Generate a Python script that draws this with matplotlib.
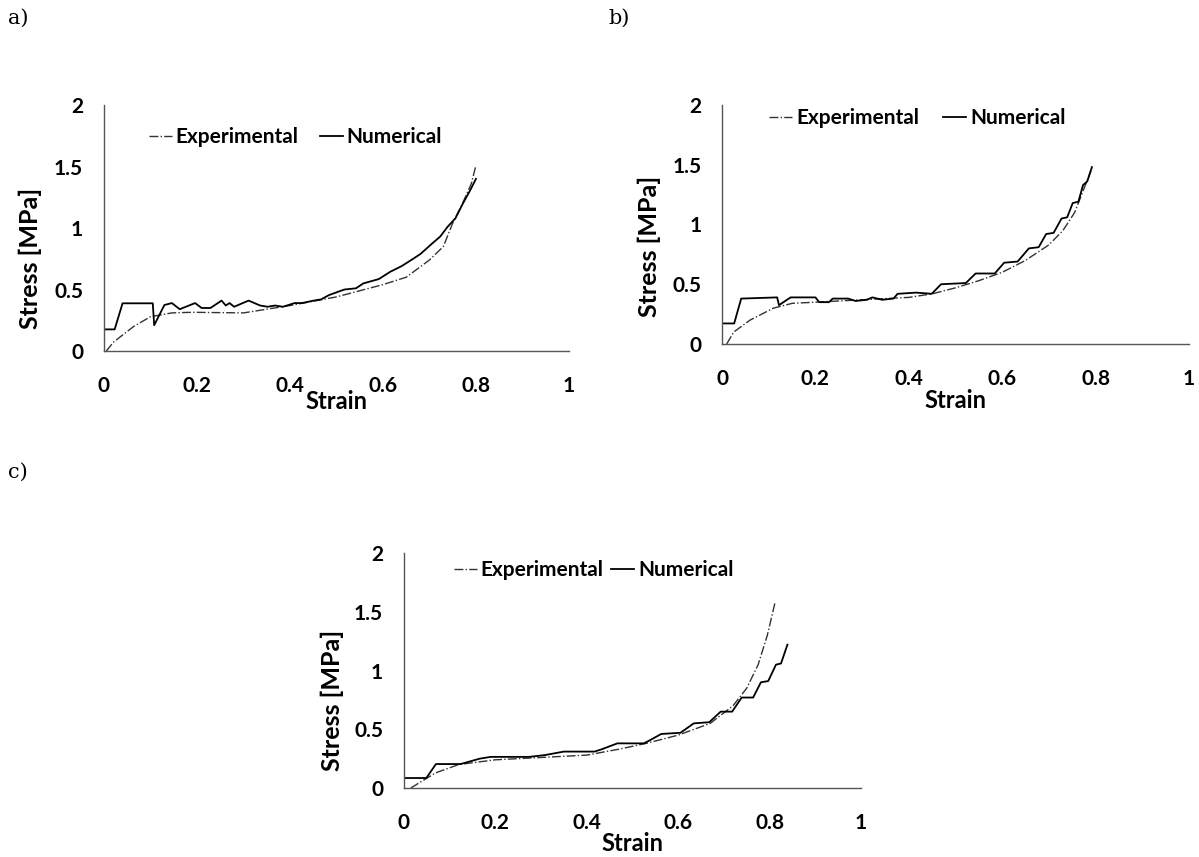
import matplotlib.pyplot as plt

# Panel a
a_num_x = [0, 0, 0.023, 0.04, 0.105, 0.108, 0.13, 0.146, 0.163, 0.196, 0.21, 0.229, 0.253, 0.262,
           0.27, 0.28, 0.311, 0.336, 0.352, 0.368, 0.385, 0.41, 0.426, 0.451, 0.467, 0.484, 0.517,
           0.542, 0.558, 0.591, 0.616, 0.64, 0.665, 0.681, 0.706, 0.723, 0.739, 0.756, 0.772, 0.788, 0.80]
a_num_y = [0, 0.176, 0.176, 0.388, 0.388, 0.21, 0.374, 0.39, 0.34, 0.39, 0.35, 0.35, 0.41, 0.37,
           0.39, 0.36, 0.41, 0.37, 0.36, 0.37, 0.36, 0.39, 0.39, 0.41, 0.42, 0.455, 0.50,
           0.51, 0.55, 0.585, 0.645, 0.69, 0.75, 0.79, 0.875, 0.93, 1.01, 1.08, 1.2, 1.31, 1.40]
a_exp_x = [0.005, 0.02, 0.04, 0.064, 0.1, 0.146, 0.19, 0.3, 0.4, 0.5, 0.6, 0.65, 0.7, 0.73, 0.75, 0.77, 0.79, 0.80]
a_exp_y = [0.0, 0.07, 0.13, 0.20, 0.279, 0.31, 0.315, 0.31, 0.37, 0.44, 0.54, 0.60, 0.74, 0.85, 1.04, 1.19, 1.36, 1.51]

# Panel b
b_num_x = [0, 0, 0.026, 0.041, 0.118, 0.122, 0.139, 0.147, 0.2, 0.208, 0.229, 0.237, 0.27, 0.286,
           0.31, 0.322, 0.343, 0.367, 0.376, 0.416, 0.449, 0.469, 0.522, 0.543, 0.584, 0.604,
           0.633, 0.657, 0.678, 0.694, 0.71, 0.727, 0.739, 0.751, 0.763, 0.773, 0.782, 0.792]
b_num_y = [0, 0.172, 0.172, 0.38, 0.39, 0.325, 0.37, 0.39, 0.39, 0.35, 0.35, 0.38, 0.38, 0.36,
           0.37, 0.39, 0.37, 0.38, 0.42, 0.43, 0.42, 0.50, 0.51, 0.59, 0.59, 0.68,
           0.69, 0.80, 0.81, 0.92, 0.93, 1.05, 1.06, 1.18, 1.19, 1.33, 1.36, 1.48]
b_exp_x = [0.01, 0.025, 0.06, 0.11, 0.15, 0.2, 0.3, 0.4, 0.45, 0.5, 0.55, 0.6, 0.65, 0.7, 0.73, 0.755, 0.775, 0.79]
b_exp_y = [0.0, 0.1, 0.2, 0.3, 0.34, 0.35, 0.37, 0.39, 0.42, 0.47, 0.53, 0.6, 0.7, 0.83, 0.95, 1.1, 1.3, 1.45]

# Panel c
c_num_x = [0, 0, 0.049, 0.07, 0.124, 0.166, 0.19, 0.274, 0.308, 0.35, 0.417, 0.433, 0.467, 0.525,
           0.535, 0.563, 0.605, 0.634, 0.668, 0.693, 0.718, 0.739, 0.764, 0.781, 0.797, 0.814, 0.825, 0.839]
c_num_y = [0, 0.085, 0.085, 0.204, 0.204, 0.25, 0.265, 0.265, 0.28, 0.31, 0.31, 0.33, 0.38, 0.38,
           0.40, 0.46, 0.47, 0.55, 0.56, 0.65, 0.65, 0.77, 0.77, 0.90, 0.91, 1.05, 1.06, 1.22]
c_exp_x = [0.015, 0.04, 0.07, 0.12, 0.2, 0.3, 0.4, 0.47, 0.53, 0.6, 0.67, 0.72, 0.75, 0.775, 0.795, 0.812]
c_exp_y = [0.0, 0.06, 0.13, 0.2, 0.24, 0.26, 0.28, 0.33, 0.38, 0.45, 0.55, 0.7, 0.85, 1.05, 1.3, 1.58]

# name, axes rect, data, ylabel coords, legend anchor, column spacing, xlabel pad
panels = [
    ('a)', [0.0867, 0.5904, 0.3878, 0.287], a_exp_x, a_exp_y, a_num_x, a_num_y,
     (-0.133, 0.378), (0.056, 0.870), 1.0, 4),
    ('b)', [0.6022, 0.5986, 0.3895, 0.2789], b_exp_x, b_exp_y, b_num_x, b_num_y,
     (-0.131, 0.408), (0.06, 0.946), 1.15, 8),
    ('c)', [0.3369, 0.0805, 0.3812, 0.2742], c_exp_x, c_exp_y, c_num_x, c_num_y,
     (-0.131, 0.374), (0.068, 0.928), 0.35, 7),
]
label_pos = {'a)': (8, 18), 'b)': (608, 18), 'c)': (8, 472)}

font = 'Lato'
fig = plt.figure(figsize=(11.99, 8.57), dpi=100)

for name, rect, ex, ey, nx, ny, ylab_pos, leg_pos, colsp, xpad in panels:
    ax = fig.add_axes(rect)
    ax.plot(ex, ey, color='#333333', linestyle='-.', linewidth=1.0, label='Experimental')
    ax.plot(nx, ny, color='black', linestyle='-', linewidth=1.3, label='Numerical')
    ax.set_xlim(0, 1)
    ax.set_ylim(0, 2)
    ax.set_xticks([0, 0.2, 0.4, 0.6, 0.8, 1])
    ax.set_xticklabels(['0', '0.2', '0.4', '0.6', '0.8', '1'])
    ax.set_yticks([0, 0.5, 1, 1.5, 2])
    ax.set_yticklabels(['0', '0.5', '1', '1.5', '2'])
    ax.tick_params(length=0, labelsize=15)
    ax.tick_params(axis='x', pad=18)
    ax.tick_params(axis='y', pad=15)
    for lab in ax.get_xticklabels() + ax.get_yticklabels():
        lab.set_fontweight('bold')
        lab.set_family(font)
    for s in ['top', 'right']:
        ax.spines[s].set_visible(False)
    for s in ['left', 'bottom']:
        ax.spines[s].set_color('#555555')
        ax.spines[s].set_linewidth(1.0)
    ax.set_xlabel('Strain', fontsize=17, fontweight='bold', family=font, labelpad=xpad - 8)
    ax.set_ylabel('Stress [MPa]', fontsize=18, fontweight='bold', family=font)
    ax.yaxis.set_label_coords(*ylab_pos)
    ax.legend(loc='center left', bbox_to_anchor=leg_pos, ncol=2, frameon=False,
              handlelength=1.1, handletextpad=0.2, columnspacing=colsp,
              prop={'family': font, 'weight': 'bold', 'size': 15})
    px, py = label_pos[name]
    fig.text(px / 1199, 1 - py / 857, name, fontsize=15, family='DejaVu Serif',
             va='center', ha='left')

plt.savefig('out.png', dpi=100)
